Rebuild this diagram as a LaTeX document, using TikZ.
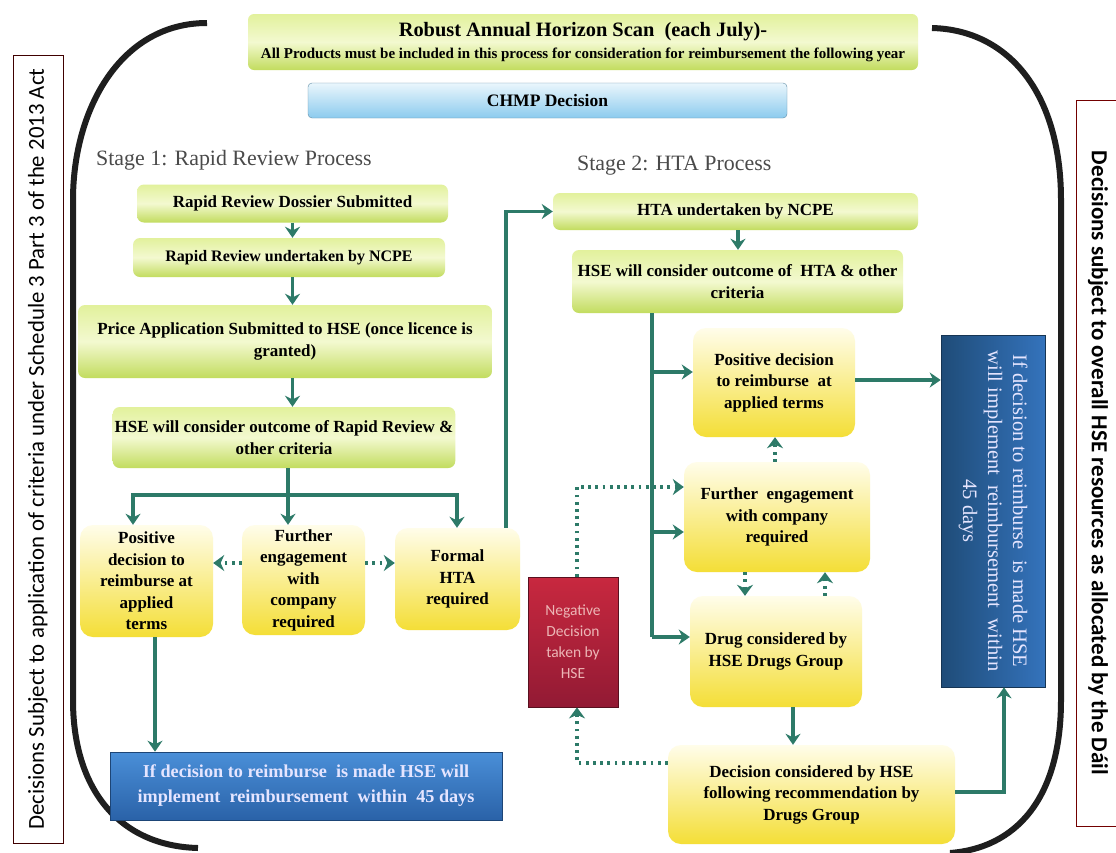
\documentclass[tikz,border=0pt]{standalone}
\usepackage{fontspec}
\setmainfont{Liberation Serif}
\newfontfamily\sidefnt{Carlito}
\usetikzlibrary{arrows.meta,calc}
\definecolor{gtop}{HTML}{E2F19C}
\definecolor{gmid}{HTML}{F3F9D0}
\definecolor{gbot}{HTML}{C2DC5E}
\definecolor{ytop}{HTML}{FFFDEA}
\definecolor{ybot}{HTML}{F4DE36}
\definecolor{btop}{HTML}{4A8FD8}
\definecolor{bbot}{HTML}{2A62A8}
\definecolor{bleft}{HTML}{1F4C78}
\definecolor{bright}{HTML}{3473BC}
\definecolor{ctop}{HTML}{EAF6FC}
\definecolor{cbot}{HTML}{8CCBEE}
\definecolor{rtop}{HTML}{C8283F}
\definecolor{rbot}{HTML}{921A34}
\definecolor{arrowc}{HTML}{2D7A68}
\definecolor{stagec}{HTML}{4A4A4A}
\definecolor{bracketc}{HTML}{1E1E1E}
\newcommand\boxfnt{\bfseries\fontsize{17}{21.5}\selectfont}
\begin{document}
\begin{tikzpicture}[x=1pt,y=-1pt,
  gbox/.style={rounded corners=7pt, top color=gtop, bottom color=gbot, middle color=gmid, align=center, inner sep=2pt, font=\boxfnt},
  ybox/.style={rounded corners=13pt, top color=ytop, bottom color=ybot, align=center, inner sep=2pt, font=\boxfnt},
  arr/.style={draw=arrowc, line width=3.4pt, -{Stealth[length=11pt,width=15pt]}},
  ln/.style={draw=arrowc, line width=3.4pt},
  dotarr/.style={draw=arrowc, line width=3.8pt, dash pattern=on 2.8pt off 4.4pt, -{Stealth[length=11pt,width=16pt]}},
  bracket/.style={draw=bracketc, line width=6pt}
]
\useasboundingbox (0,0) rectangle (1116,852);
\fill[white] (0,0) rectangle (1116,852);

% side boxes
\node[draw=black!75!red, line width=1pt, rotate=90, minimum width=788, minimum height=50, inner sep=0pt,
  font=\sidefnt\fontsize{22.8}{24}\selectfont] (lside) at (38,449)
  {Decisions Subject to application of criteria under Schedule 3 Part 3 of the 2013 Act};
\node[draw=red!45!black, line width=1pt, rotate=-90, minimum width=726, minimum height=44, inner sep=0pt,
  font=\sidefnt\bfseries\fontsize{23}{24}\selectfont] (rside) at (1098,463)
  {Decisions subject to overall HSE resources as allocated by the D\'ail};

% brackets
\draw[bracket] (207,23) .. controls (120,23) and (73,110) .. (73,200) -- (73,700)
  .. controls (73,790) and (120,846) .. (198,848);
\draw[bracket] (932,28) .. controls (1010,30) and (1061,95) .. (1061,200) -- (1061,700)
  .. controls (1061,800) and (1015,848) .. (950,853);

% top
\node[gbox, rounded corners=6pt, minimum width=670, minimum height=56] (top) at (583,42)
  {{\fontsize{20.4}{22}\selectfont Robust Annual Horizon Scan~~(each July)-}\\[0pt]
   {\fontsize{15}{17}\selectfont All Products must be included in this process for consideration for reimbursement the following year}};
\node[rounded corners=4pt, top color=ctop, bottom color=cbot, draw=cbot!70!black, line width=0.4pt,
  minimum width=479, minimum height=35, inner sep=0pt, font=\bfseries\fontsize{17.5}{20}\selectfont] (chmp) at (547.5,100.5) {CHMP Decision};

% stage headings
\node[anchor=base west, inner sep=0pt, text=stagec, font=\fontsize{21.9}{24}\selectfont] (s1) at (96,165) {Stage 1: Rapid Review Process};
\node[anchor=base west, inner sep=0pt, text=stagec, font=\fontsize{21.9}{24}\selectfont] (s2) at (577,170) {Stage 2: HTA Process};

% stage 1 boxes
\node[gbox, minimum width=311, minimum height=38] (rr1) at (292.5,203.5) {Rapid Review Dossier Submitted};
\node[gbox, minimum width=312, minimum height=39] (rr2) at (289,257.5) {\fontsize{16}{20}\selectfont Rapid Review undertaken by NCPE};
\node[gbox, minimum width=414, minimum height=73] (price) at (285,341.5) {Price Application Submitted to HSE (once licence is\\granted)};
\node[gbox, minimum width=332, minimum height=61] (hse1) at (284,437.5) {HSE will consider outcome of Rapid Review \&\\other criteria};
\node[ybox, minimum width=133, minimum height=112] (pos1) at (146.5,581) {Positive\\decision to\\reimburse at\\applied\\terms};
\node[ybox, minimum width=123, minimum height=110] (fur1) at (303.5,580) {Further\\engagement\\with\\company\\required};
\node[ybox, minimum width=125, minimum height=102] (hta1) at (457.5,579) {Formal\\HTA\\required};
\node[top color=btop, bottom color=bbot, draw=bbot!70!black, line width=0.6pt, minimum width=392, minimum height=68,
  align=center, inner sep=0pt, text=white!90!blue, font=\bfseries\fontsize{18.2}{25}\selectfont] (blue1) at (306,786)
  {If decision to reimburse~ is made HSE will\\implement~ reimbursement~ within~ 45 days};

% stage 2 boxes
\node[gbox, minimum width=365, minimum height=37] (hta2) at (735.5,211.5) {HTA undertaken by NCPE};
\node[gbox, minimum width=331, minimum height=63] (hse2) at (737.5,281.5) {HSE will consider outcome of~ HTA \& other\\criteria};
\node[ybox, minimum width=162, minimum height=109] (pos2) at (774,382.5) {Positive decision\\to reimburse~ at\\applied terms};
\node[ybox, minimum width=186, minimum height=110] (fur2) at (777,517) {Further~ engagement\\with company\\required};
\node[ybox, minimum width=172, minimum height=111] (drug2) at (776,651.5) {Drug considered by\\HSE Drugs Group};
\node[ybox, minimum width=287, minimum height=99] (dec2) at (811.5,794.5) {Decision considered by HSE\\following recommendation by\\Drugs Group};
\node[top color=rtop, bottom color=rbot, draw=rbot!60!black, line width=0.8pt, minimum width=90, minimum height=130,
  align=center, inner sep=0pt, text=red!25!white!85!gray, font=\sidefnt\fontsize{15.5}{21}\selectfont] (neg) at (573,642)
  {Negative\\Decision\\taken by\\HSE};
\node[left color=bleft, right color=bright, draw=bleft!70!black, line width=0.6pt, rotate=-90, minimum width=352, minimum height=104,
  align=center, inner sep=0pt, text=white!90!blue, font=\fontsize{20.5}{25}\selectfont] (blue2) at (993,511)
  {If decision to reimburse~ is made HSE\\will implement~ reimbursement~ within\\45 days};

% helper coordinates
\coordinate (b1) at (133,495);
\coordinate (bm) at (288,495);
\coordinate (b2) at (457,495);
\coordinate (d1) at (0,563);
\coordinate (x155) at (155,0);
\coordinate (xf) at (506,0);
\coordinate (x738) at (738,0);
\coordinate (t1) at (652,372);
\coordinate (t2) at (652,532);
\coordinate (t3) at (652,637);
\coordinate (n1) at (577,487);
\coordinate (x775) at (775,0);
\coordinate (x745) at (745,0);
\coordinate (x825) at (825,0);
\coordinate (x793) at (793,0);
\coordinate (y763) at (0,763);
\coordinate (y792) at (0,792);
\coordinate (x1004) at (1004,0);
\coordinate (y380) at (0,380);

% stage 1 connectors
\draw[arr] (rr1.south) -- (rr1.south |- rr2.north);
\draw[arr] (rr1.south |- rr2.south) -- (rr1.south |- price.north);
\draw[arr] (rr1.south |- price.south) -- (rr1.south |- hse1.north);
\draw[ln] (hse1.south -| bm) -- (bm);
\draw[ln, line cap=rect] (b1) -- (b2);
\draw[arr] (b1) -- (b1 |- pos1.north);
\draw[arr] (bm) -- (bm |- fur1.north);
\draw[arr] (b2) -- (b2 |- hta1.north);
\draw[dotarr] (fur1.west |- d1) -- (pos1.east |- d1);
\draw[dotarr] (fur1.east |- d1) -- (hta1.west |- d1);
\draw[arr] (xf |- hta1.north) |- (hta2.west);
\draw[arr] (x155 |- pos1.south) -- (x155 |- blue1.north);

% stage 2 connectors
\draw[arr] (x738 |- hta2.south) -- (x738 |- hse2.north);
\draw[ln] (t1 |- hse2.south) -- (t3);
\draw[arr] (t1) -- (t1 -| pos2.west);
\draw[arr] (t2) -- (t2 -| fur2.west);
\draw[arr] (t3) -- (t3 -| drug2.west);
\draw[dotarr] (n1 |- neg.north) |- (fur2.west |- n1);
\draw[dotarr] (x775 |- fur2.north) -- (x775 |- pos2.south);
\draw[dotarr] (x745 |- fur2.south) -- (x745 |- drug2.north);
\draw[dotarr] (x825 |- drug2.north) -- (x825 |- fur2.south);
\draw[arr] (x793 |- drug2.south) -- (x793 |- dec2.north);
\draw[dotarr] (dec2.west |- y763) -| (n1 |- neg.south);
\draw[arr] (dec2.east |- y792) -| (x1004 |- blue2.east);
\draw[arr] (pos2.east |- y380) -- (blue2.south |- y380);
\end{tikzpicture}
\end{document}
